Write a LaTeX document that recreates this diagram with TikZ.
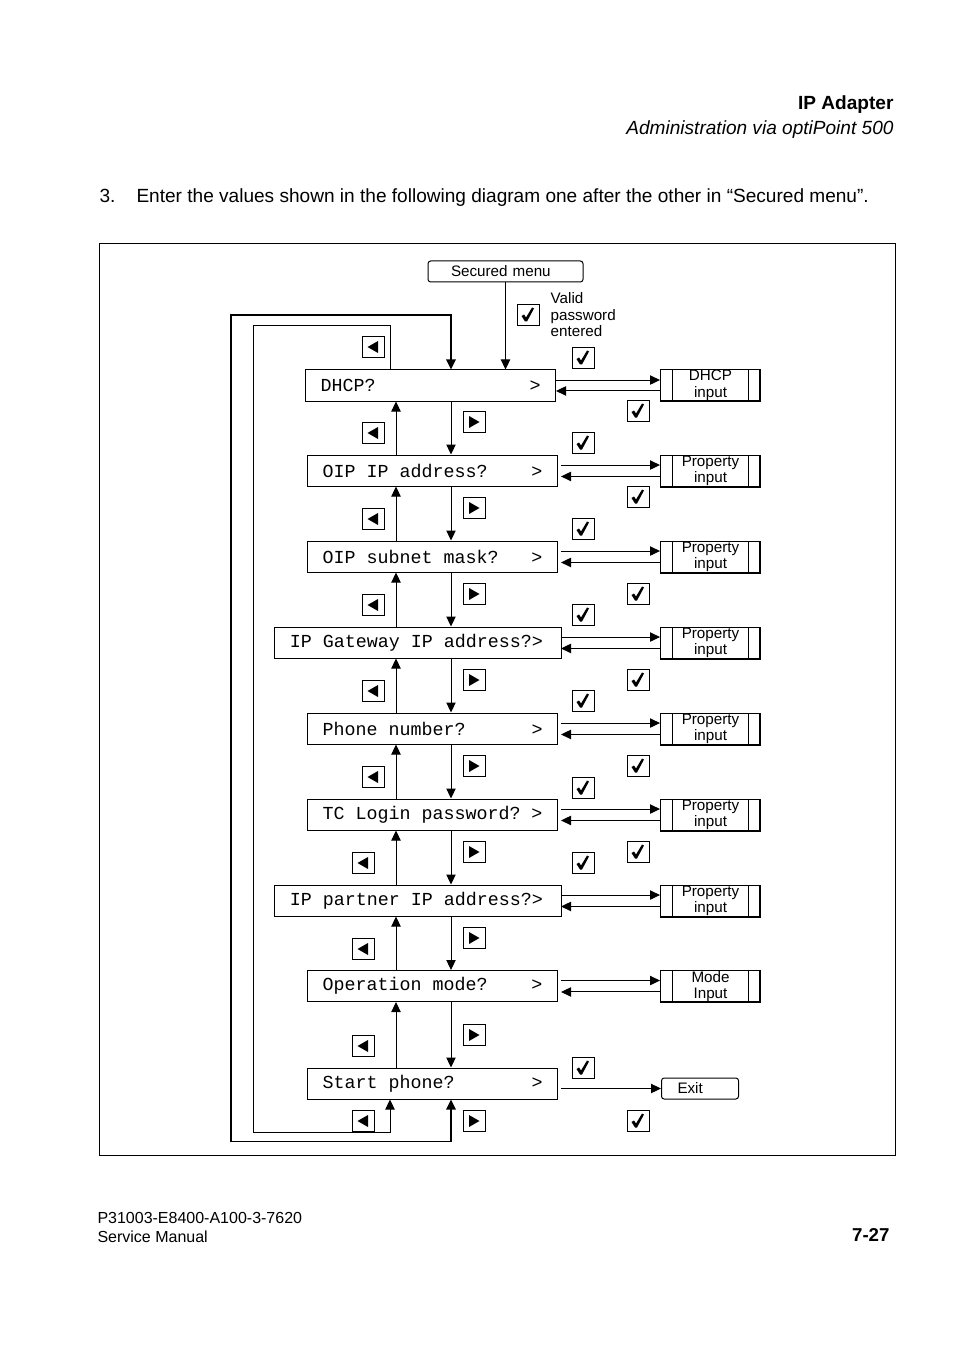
\documentclass[tikz,border=0pt]{standalone}
\usepackage{fontspec}
\setmainfont{Liberation Sans}
\newfontfamily\lcdfont{Liberation Mono}
\newcommand\lcdtype{\lcdfont\fontsize{13.75}{16}\selectfont}
\newcommand\lcdsp{\hspace*{8.25pt}}
\usepackage{tikz}
\usetikzlibrary{arrows.meta,positioning}

\begin{document}
\begin{tikzpicture}[x=0.75pt,y=-0.75pt,>={Triangle[length=7.5pt,width=7pt]},
                    line width=0.75pt]
  \tikzstyle{menu}=[draw,anchor=west,font=\lcdtype,
                    text width=165pt,inner xsep=11.25pt,inner ysep=0pt,minimum height=23.25pt]
  \tikzstyle{wide menu}=[menu,text width=192pt,inner xsep=11.6pt]
  \tikzstyle{small}=[font=\fontsize{11.4}{12.4}\selectfont]
  \tikzstyle{entry box}=[draw,small,anchor=west,align=center,inner sep=0pt,
                    minimum width=75pt,minimum height=24pt,
                    path picture={\draw ([xshift=9pt]path picture bounding box.north west) -- ([xshift=9pt]path picture bounding box.south west)
                                        ([xshift=-9pt]path picture bounding box.north east) -- ([xshift=-9pt]path picture bounding box.south east);
                                  \draw[line width=1.6pt] (path picture bounding box.south west) -- (path picture bounding box.south east) -- (path picture bounding box.north east);}]
  \tikzstyle{soft box}=[draw,small,rounded corners=2pt,inner ysep=0pt,minimum height=15.75pt,align=left]
  \tikzstyle{key}=[draw,inner sep=0pt,minimum width=16.5pt,minimum height=15.75pt]
  \tikzstyle{back key}=[key,path picture={\fill[shift={(path picture bounding box.center)}] (-5.5,0) -- (5,-6) -- (5,6) -- cycle;}]
  \tikzstyle{next key}=[key,path picture={\fill[shift={(path picture bounding box.center)}] (5.5,0) -- (-5,-6) -- (-5,6) -- cycle;}]
  \tikzstyle{ok key}=[key,path picture={\fill[shift={(path picture bounding box.center)}] (-6.5,1) -- (-4,-0.5) -- (-2,2.5) -- (4,-7.5) -- (6,-6.5) -- (-1,6.5) -- (-3,6.5) -- cycle;}]

  \useasboundingbox (0,0) rectangle (954,1351);

  \node[anchor=base east,inner sep=0pt,font=\fontsize{14.3}{17}\selectfont\bfseries] (chap) at (894,110) {IP Adapter};
  \node[anchor=base east,inner sep=0pt,font=\fontsize{14.3}{17}\selectfont\itshape] (sect) at (894,135) {Administration via optiPoint 500};
  \node[anchor=base west,inner sep=0pt,font=\fontsize{14.3}{17}\selectfont] (num) at (99,203) {3.};
  \node[anchor=base west,inner sep=0pt,font=\fontsize{14.3}{17}\selectfont] (item) at (136,203)
       {Enter the values shown in the following diagram one after the other in “Secured menu”.};

  \draw (99,244) rectangle (895,1155);

  \node[soft box,inner xsep=17.25pt,text width=81.75pt] (sm) at (505.5,271.5) {Secured menu};

  \node[menu]      (m1) at (305,385.5) {DHCP?\hfill>};
  \node[menu]      (m2) at (307,470.5) {OIP\lcdsp IP\lcdsp address?\hfill>};
  \node[menu]      (m3) at (307,556.5) {OIP\lcdsp subnet\lcdsp mask?\hfill>};
  \node[wide menu] (m4) at (274,642.5) {IP\lcdsp Gateway\lcdsp IP\lcdsp address?>};
  \node[menu]      (m5) at (307,728.5) {Phone\lcdsp number?\hfill>};
  \node[menu]      (m6) at (307,814.5) {TC\lcdsp Login\lcdsp password?\hfill>};
  \node[wide menu] (m7) at (274,900.5) {IP\lcdsp partner\lcdsp IP\lcdsp address?>};
  \node[menu]      (m8) at (307,986)   {Operation\lcdsp mode?\hfill>};
  \node[menu]      (m9) at (307,1083.5) {Start\lcdsp phone?\hfill>};

  \node[entry box] (p1) at (660,385.5) {DHCP\\input};
  \node[entry box] (p2) at (660,471)   {Property\\input};
  \node[entry box] (p3) at (660,557)   {Property\\input};
  \node[entry box] (p4) at (660,643)   {Property\\input};
  \node[entry box] (p5) at (660,729)   {Property\\input};
  \node[entry box] (p6) at (660,815)   {Property\\input};
  \node[entry box] (p7) at (660,901)   {Property\\input};
  \node[entry box] (p8) at (660,986.5) {Mode\\Input};
  \node[soft box,anchor=west,inner xsep=12pt,text width=33.75pt] (ex) at (661,1088.5) {Exit};

  \coordinate (dn)  at (451,0);
  \coordinate (upx) at (396,0);
  \coordinate (lp)  at (390,0);
  \coordinate (rx)  at (561,0);

  \draw[->] (sm.south) -- (sm.south |- m1.north);

  \foreach \a/\b in {1/2,2/3,3/4,4/5,5/6,6/7,7/8,8/9}{
    \draw[->] (m\a.south -| dn) -- (m\b.north -| dn);
    \draw[->] (m\b.north -| upx) -- (m\a.south -| upx);
  }

  \draw[<->,line width=1.2pt] (m9.south -| dn) -- ++(0,42) -| (231,315) -| (m1.north -| dn);
  \draw[->] (m1.north -| lp) -- ++(0,-44) -| (253,1132) -| (m9.south -| lp);

  \foreach \i/\s in {1/m1.east,2/rx,3/rx,4/rx,5/rx,6/rx,7/rx,8/rx}{
    \draw[->] ([yshift=4.1pt]m\i.east -| \s) -- ([yshift=4.1pt]m\i.east -| p\i.west);
    \draw[->] ([yshift=-4.1pt]p\i.west) -- ([yshift=-4.1pt]p\i.west -| \s);
  }
  \draw[->] (ex.west -| rx) -- (ex.west);

  \foreach \y [count=\n] in {347,433,519,605,691,777}
    \node[back key] (bk\n) at (373,\y) {};
  \foreach \y [count=\n from 7] in {863,949,1046,1121}
    \node[back key] (bk\n) at (363,\y) {};
  \foreach \y [count=\n] in {422,508,594,680,766,852,938,1035,1121}
    \node[next key] (nk\n) at (474,\y) {};
  \foreach \y [count=\n] in {358,443,529,615,701,788,863,1068}
    \node[ok key] (oka\n) at (583,\y) {};
  \foreach \y [count=\n] in {411,497,594,680,766,852,1121}
    \node[ok key] (okb\n) at (638,\y) {};

  \node[ok key] (ok0) at (528,315) {};
  \node[small,align=left,inner sep=0pt,right=8pt of ok0] (valid) {Valid\\password\\entered};

  \node[anchor=base west,inner sep=0pt,font=\fontsize{12}{14}\selectfont] (docno) at (97,1223) {P31003-E8400-A100-3-7620};
  \node[anchor=base west,inner sep=0pt,font=\fontsize{12}{14}\selectfont] (manual) at (97,1242) {Service Manual};
  \node[anchor=base east,inner sep=0pt,font=\fontsize{14}{17}\selectfont\bfseries] (page) at (890,1241) {7-27};
\end{tikzpicture}
\end{document}
